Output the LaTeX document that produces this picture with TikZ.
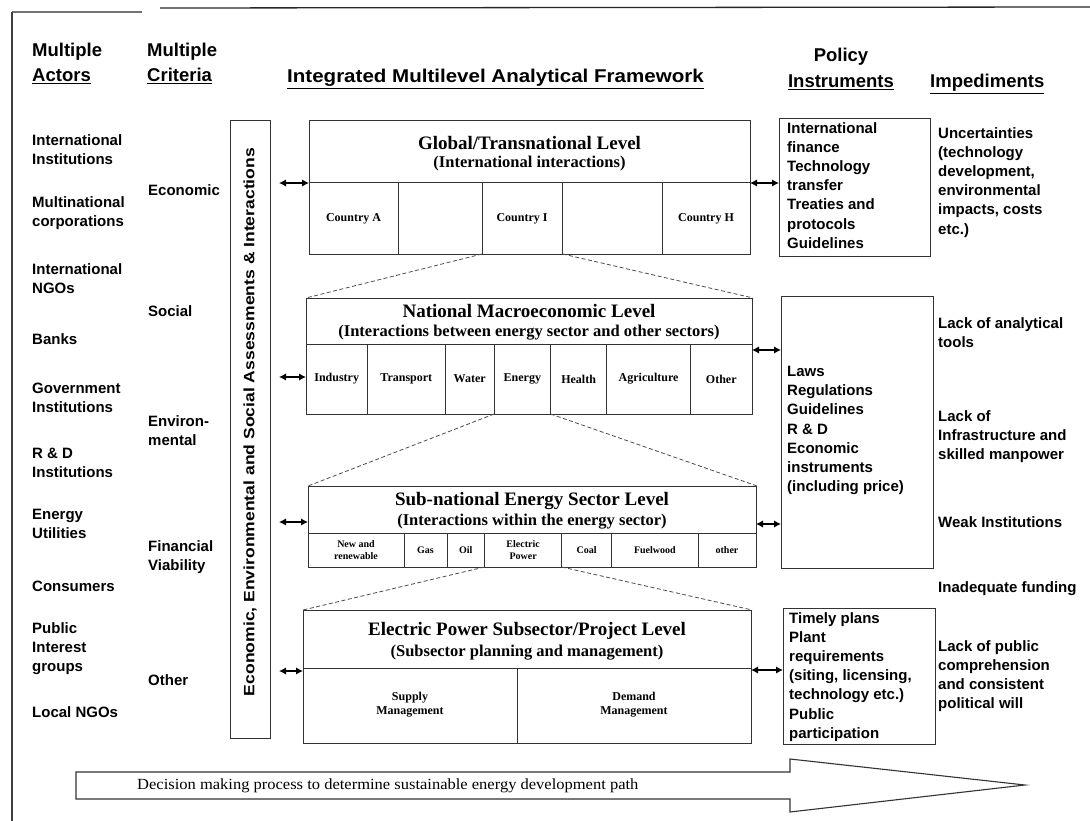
\documentclass[tikz,border=0pt]{standalone}
\usepackage{fontspec}
\setmainfont{Liberation Serif}
\setsansfont{Liberation Sans}
\usetikzlibrary{arrows.meta}
\newcommand\fHdr{\sffamily\bfseries\fontsize{18.5}{22}\selectfont}
\newcommand\fSide{\sffamily\bfseries\fontsize{15}{19.2}\selectfont}
\newcommand\fTtl{\rmfamily\bfseries\fontsize{19}{22}\selectfont}
\newcommand\fSubt{\rmfamily\bfseries\fontsize{16.5}{19}\selectfont}
\newcommand\fCell{\rmfamily\bfseries\fontsize{12}{14}\selectfont}
\newcommand\fSCell{\rmfamily\bfseries\fontsize{10}{11.5}\selectfont}
\newcommand\fVert{\sffamily\bfseries\fontsize{15}{18}\selectfont}
\newcommand\fArr{\rmfamily\fontsize{15.5}{18}\selectfont}
\begin{document}
\begin{tikzpicture}[x=1pt,y=-1pt,
  box/.style={draw=black!80, line width=1.1pt, inner sep=0pt, anchor=north west},
  sepl/.style={draw=black!80, line width=1pt},
  dsh/.style={draw=black!70, line width=0.8pt, dash pattern=on 4pt off 2.5pt},
  dar/.style={draw=black, line width=1.4pt, {Latex[length=7pt,width=7.5pt]}-{Latex[length=7pt,width=7.5pt]}},
  hdr/.style={font=\fHdr, inner sep=0pt, anchor=base west},
  side/.style={font=\fSide, inner sep=0pt, anchor=north west, align=left},
  ttl/.style={font=\fTtl, inner sep=0pt},
  subt/.style={font=\fSubt, inner sep=0pt},
  celltxt/.style={font=\fCell, inner sep=0pt, align=center},
  scell/.style={font=\fSCell, inner sep=0pt, align=center},
]
\useasboundingbox (0,0) rectangle (1090,821);
\fill[white] (0,0) rectangle (1090,821);

% frame
\draw[black!55, line width=1.5pt] (12,12) -- (142,12);
\draw[black!85, line width=1.3pt] (160,8) -- (1090,7);
\draw[black!75, line width=1.5pt] (12,12) -- (12,821);

% headers
\node[hdr] (h1a) at (32,57) {Multiple};
\node[hdr] (h1b) at (32,82) {\underline{Actors}};
\node[hdr] (h2a) at (147,57) {Multiple};
\node[hdr] (h2b) at (147,82) {\underline{Criteria}};
\node[hdr] (h3) at (287,83) {\underline{\scalebox{1.11}[1]{Integrated Multilevel Analytical Framework}}};
\node[hdr, anchor=base] (h4a) at (841,62) {Policy};
\node[hdr, anchor=base] (h4b) at (841,88) {\underline{Instruments}};
\node[hdr] (h5) at (930,88) {\underline{Impediments}};

% actors
\node[side] (a1) at (32,134) {International\\Institutions};
\node[side] (a2) at (32,196) {Multinational\\corporations};
\node[side] (a3) at (32,263) {International\\NGOs};
\node[side] (a4) at (32,333) {Banks};
\node[side] (a5) at (32,383) {Government\\Institutions};
\node[side] (a6) at (32,448) {R \& D\\Institutions};
\node[side] (a7) at (32,509) {Energy\\Utilities};
\node[side] (a8) at (32,581) {Consumers};
\node[side] (a9) at (32,622) {Public\\Interest\\groups};
\node[side] (a10) at (32,706) {Local NGOs};

% criteria
\node[side] (c1) at (148,184) {Economic};
\node[side] (c2) at (148,305) {Social};
\node[side] (c3) at (148,415) {Environ-\\mental};
\node[side] (c4) at (148,540) {Financial\\Viability};
\node[side] (c5) at (148,674) {Other};

% vertical box
\node[box, minimum width=40pt, minimum height=618pt] (vb) at (230,120) {};
\node[font=\fVert, rotate=90, inner sep=0pt] (vtxt) at (250,422)
  {\scalebox{1.17}[1]{Economic, Environmental and Social Assessments \& Interactions}};

% ---- Global level
\node[box, minimum width=441pt, minimum height=134pt] (glob) at (309,120) {};
\draw[sepl] (309,183) -- (750,183);
\foreach \xx in {398,482,562.6,662.5} \draw[sepl] (\xx,183) -- (\xx,254);
\node[ttl] (gT) at (529.5,143) {Global/Transnational Level};
\node[subt] (gS) at (529.5,164) {(International interactions)};
\node[celltxt] (gA) at (353.5,219) {Country A};
\node[celltxt] (gI) at (522,219) {Country I};
\node[celltxt] (gH) at (706,219) {Country H};

% ---- National level
\node[box, minimum width=446pt, minimum height=116pt] (nat) at (306,298) {};
\draw[sepl] (306,344) -- (752,344);
\foreach \xx in {367.4,445.2,494.2,550.6,606.6,690.6} \draw[sepl] (\xx,344) -- (\xx,414);
\node[ttl] (nT) at (529,311) {National Macroeconomic Level};
\node[subt] (nS) at (529,333) {(Interactions between energy sector and other sectors)};
\node[celltxt] (n1) at (336.7,379) {Industry};
\node[celltxt] (n2) at (406.3,379) {Transport};
\node[celltxt] (n3) at (469.7,379) {Water};
\node[celltxt] (n4) at (522.4,379) {Energy};
\node[celltxt] (n5) at (578.6,379) {Health};
\node[celltxt] (n6) at (648.6,379) {Agriculture};
\node[celltxt] (n7) at (721.3,379) {Other};

% ---- Sub-national level
\node[box, minimum width=448pt, minimum height=81pt] (sub) at (308,486) {};
\draw[sepl] (308,533) -- (756,533);
\foreach \xx in {404.1,447,484.5,561.7,611.7,698.1} \draw[sepl] (\xx,533) -- (\xx,567);
\node[ttl] (sT) at (532,501) {Sub-national Energy Sector Level};
\node[subt] (sS) at (532,522) {(Interactions within the energy sector)};
\node[scell] (s1) at (356,550) {New and\\renewable};
\node[scell] (s2) at (425.5,550) {Gas};
\node[scell] (s3) at (465.7,550) {Oil};
\node[scell] (s4) at (523.1,550) {Electric\\Power};
\node[scell] (s5) at (586.7,550) {Coal};
\node[scell] (s6) at (654.9,550) {Fuelwood};
\node[scell] (s7) at (727,550) {other};

% ---- Electric power level
\node[box, minimum width=448pt, minimum height=133pt] (ele) at (303,610) {};
\draw[sepl] (303,668) -- (751,668);
\draw[sepl] (517,668) -- (517,743);
\node[ttl] (eT) at (527,631) {Electric Power Subsector/Project Level};
\node[subt] (eS) at (527,653) {(Subsector planning and management)};
\node[celltxt] (e1) at (410,705) {Supply\\Management};
\node[celltxt] (e2) at (634,705) {Demand\\Management};

% dashed zoom connectors
\coordinate (g2) at (482,254);  \coordinate (g3) at (562.6,254);
\coordinate (n4l) at (494.2,414); \coordinate (n4r) at (550.6,414);
\coordinate (s4l) at (484.5,567); \coordinate (s4r) at (561.7,567);
\draw[dsh] (g2) -- (nat.north west);
\draw[dsh] (g3) -- (nat.north east);
\draw[dsh] (n4l) -- (sub.north west);
\draw[dsh] (n4r) -- (sub.north east);
\draw[dsh] (s4l) -- (ele.north west);
\draw[dsh] (s4r) -- (ele.north east);

% policy boxes
\node[box, minimum width=151pt, minimum height=138pt] (p1) at (779,118) {};
\node[box, minimum width=152pt, minimum height=272pt] (p2) at (781,296) {};
\node[box, minimum width=152pt, minimum height=136pt] (p3) at (783,608) {};
\node[side] (p1t) at (787,122) {International\\finance\\Technology\\transfer\\Treaties and\\protocols\\Guidelines};
\node[side] (p2t) at (787,366) {Laws\\Regulations\\Guidelines\\R \& D\\Economic\\instruments\\(including price)};
\node[side] (p3t) at (789,612) {Timely plans\\Plant\\requirements\\(siting, licensing,\\technology etc.)\\Public\\participation};

% impediments
\node[side] (i1) at (938,127) {Uncertainties\\(technology\\development,\\environmental\\impacts, costs\\etc.)};
\node[side] (i2) at (938,317) {Lack of analytical\\tools};
\node[side] (i3) at (938,410) {Lack of\\Infrastructure and\\skilled manpower};
\node[side] (i4) at (938,516) {Weak Institutions};
\node[side] (i5) at (938,581) {Inadequate funding};
\node[side] (i6) at (938,640) {Lack of public\\comprehension\\and consistent\\political will};

% left double arrows
\coordinate (la1) at (279,183);
\coordinate (la2) at (279,377);
\coordinate (la3) at (279,522);
\coordinate (la4) at (279,671);
\draw[dar] (la1) -- (glob.west |- la1);
\draw[dar] (la2) -- (nat.west |- la2);
\draw[dar] (la3) -- (sub.west |- la3);
\draw[dar] (la4) -- (ele.west |- la4);

% right double arrows
\coordinate (ra1) at (750,183);
\coordinate (ra2) at (752,350);
\coordinate (ra3) at (756,524);
\coordinate (ra4) at (751,670);
\draw[dar] (ra1) -- (p1.west |- ra1);
\draw[dar] (ra2) -- (p2.west |- ra2);
\draw[dar] (ra3) -- (p2.west |- ra3);
\draw[dar] (ra4) -- (p3.west |- ra4);

% bottom process arrow
\draw[black!80, line width=1.1pt, fill=white] (76,772) -- (790,772) -- (790,759) -- (1025,785) -- (790,812) -- (790,799) -- (76,799) -- cycle;
\node[font=\fArr, inner sep=0pt, anchor=west] (arrtxt) at (137,786) {\scalebox{1.065}[1]{Decision making process to determine sustainable energy development path}};
\end{tikzpicture}
\end{document}
